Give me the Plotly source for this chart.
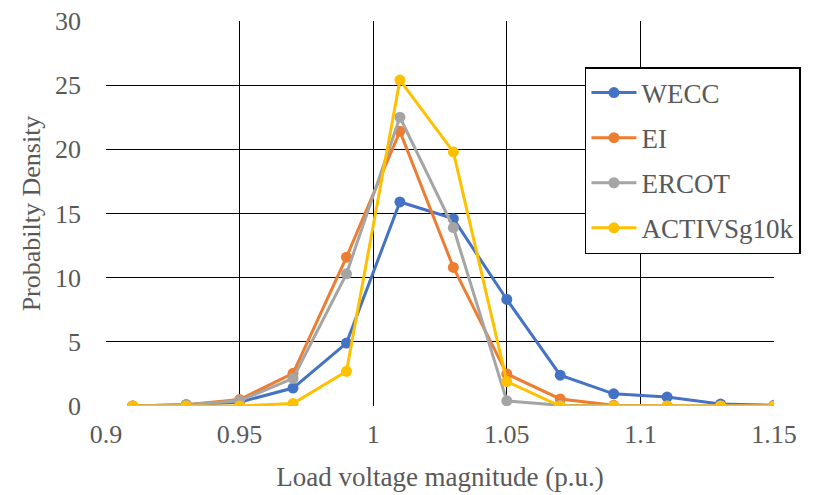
import plotly.graph_objects as go

x_values = [0.91, 0.93, 0.95, 0.97, 0.99, 1.01, 1.03, 1.05, 1.07, 1.09, 1.11, 1.13, 1.15]
wecc = [0.0, 0.1, 0.3, 1.4, 4.9, 15.9, 14.6, 8.3, 2.4, 0.95, 0.7, 0.15, 0.05]
ei = [0.0, 0.1, 0.5, 2.55, 11.6, 21.4, 10.8, 2.5, 0.55, 0.05, 0.0, 0.0, 0.0]
ercot = [0.0, 0.1, 0.4, 2.15, 10.3, 22.5, 13.9, 0.4, 0.05, 0.0, 0.0, 0.0, 0.0]
activ = [0.0, 0.0, 0.0, 0.2, 2.7, 25.4, 19.8, 1.9, 0.0, 0.0, 0.0, 0.0, 0.0]

series_names = ["WECC", "EI", "ERCOT", "ACTIVSg10k"]
series_values = [wecc, ei, ercot, activ]
colors = ["#4472C4", "#ED7D31", "#A5A5A5", "#FFC000"]

x_ticks = [0.9, 0.95, 1.0, 1.05, 1.1, 1.15]
x_tick_labels = ["0.9", "0.95", "1", "1.05", "1.1", "1.15"]
y_ticks = [0, 5, 10, 15, 20, 25, 30]

FONT = "Liberation Serif"
TEXT = "#595959"

fig = go.Figure()
for name, vals, col in zip(series_names, series_values, colors):
    fig.add_trace(go.Scatter(
        x=x_values, y=vals, name=name, mode="lines+markers",
        legendgroup=name,
        line=dict(color=col, width=3),
        marker=dict(color=col, size=11),
    ))

# the page body adds an 8px offset, so the figure is sized 8px smaller
fig.update_layout(
    width=806, height=487,
    margin=dict(l=98, r=40, t=13, b=89, autoexpand=False),
    paper_bgcolor="white", plot_bgcolor="white",
    font=dict(family=FONT, size=26, color=TEXT),
    showlegend=True,
    legend=dict(
        x=0.717, y=0.8805, xanchor="left", yanchor="top",
        bgcolor="white", bordercolor="black", borderwidth=1.5,
        font=dict(family=FONT, size=27, color=TEXT),
        itemwidth=45, tracegroupgap=7, traceorder="grouped",
    ),
    xaxis=dict(
        range=[0.9, 1.15], tickvals=x_ticks, ticktext=x_tick_labels,
        showgrid=True, gridcolor="black", gridwidth=1.3,
        zeroline=False, showline=False, automargin=False,
        ticks="", ticklabelstandoff=10, ticklabeloverflow="allow",
        tickfont=dict(family=FONT, size=26, color=TEXT),
        title=dict(text="Load voltage magnitude (p.u.)", standoff=19,
                   font=dict(family=FONT, size=27, color=TEXT)),
    ),
    yaxis=dict(
        range=[0, 30], tickvals=y_ticks,
        showgrid=True, gridcolor="black", gridwidth=1.3,
        zeroline=False, showline=False, automargin=False,
        ticks="", ticklabelstandoff=24, ticklabeloverflow="allow",
        tickfont=dict(family=FONT, size=26, color=TEXT),
        title=dict(text="Probabilty Density", standoff=6,
                   font=dict(family=FONT, size=26, color=TEXT)),
    ),
)

fig.write_html("out.html")
